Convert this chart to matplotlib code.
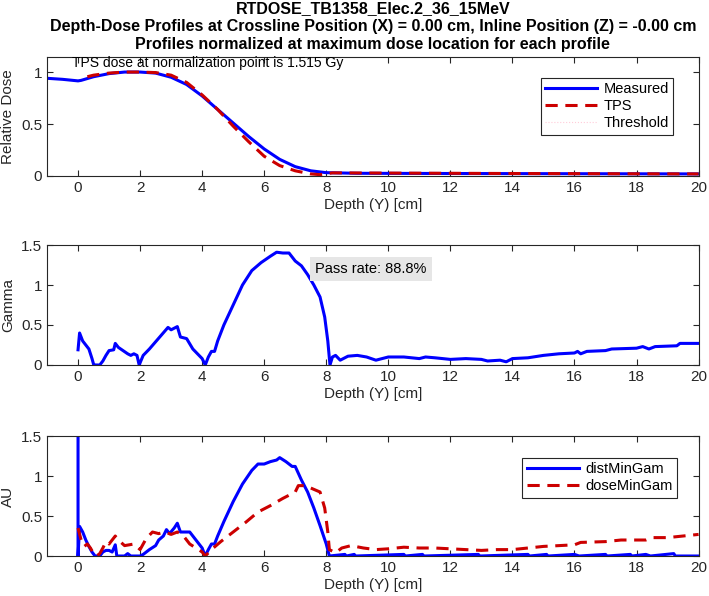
import numpy as np
import matplotlib
matplotlib.use("Agg")
import matplotlib.pyplot as plt
from matplotlib.ticker import FuncFormatter

plt.rcParams['font.family'] = ['Liberation Sans Narrow', 'Liberation Sans', 'DejaVu Sans']

# ---- data ----
meas_x = [-1, -0.5, 0, 0.1, 0.5, 1, 1.5, 2, 2.5, 3, 3.5, 4, 4.5, 5, 5.5, 6, 6.5, 7, 7.5, 8, 9, 12, 16, 20]
meas_y = [0.94, 0.93, 0.915, 0.92, 0.955, 0.985, 1.0, 1.0, 0.99, 0.95, 0.88, 0.77, 0.64, 0.51, 0.38, 0.26, 0.16, 0.09, 0.05, 0.032, 0.026, 0.024, 0.022, 0.02]

tps_x = [0.3, 0.5, 1, 1.5, 2, 2.5, 3, 3.5, 4, 4.5, 5, 5.5, 6, 6.5, 7, 7.5, 7.8, 8.2, 10, 14, 20]
tps_y = [0.955, 0.97, 0.99, 1.0, 1.0, 0.995, 0.97, 0.9, 0.78, 0.64, 0.48, 0.33, 0.19, 0.10, 0.05, 0.02, 0.013, 0.03, 0.028, 0.024, 0.02]

gam_x = [0, 0.05, 0.15, 0.25, 0.35, 0.45, 0.5, 0.55, 0.7, 0.8, 0.9, 1.0, 1.15, 1.2, 1.3, 1.45, 1.6, 1.7, 1.8, 1.9, 1.97,
         2.1, 2.3, 2.5, 2.7, 2.9, 3.0, 3.2, 3.3, 3.5, 3.7, 3.9, 4.0, 4.1, 4.2, 4.3, 4.4, 4.5, 4.7, 5.0, 5.3, 5.6, 5.9,
         6.2, 6.4, 6.6, 6.8, 7.0, 7.2, 7.4, 7.6, 7.8, 7.95, 8.05, 8.12, 8.2, 8.3, 8.45, 8.7, 9.0, 9.3, 9.6, 9.8, 10.0,
         10.5, 11.0, 11.2, 11.5, 12.0, 12.5, 13.0, 13.2, 13.6, 13.8, 14.0, 14.5, 15.0, 15.5, 16.0, 16.1, 16.2, 16.4,
         17.0, 17.2, 18.0, 18.2, 18.4, 18.6, 19.3, 19.4, 20.0]
gam_y = [0.19, 0.4, 0.3, 0.25, 0.2, 0.08, 0.01, 0.0, 0.0, 0.05, 0.12, 0.18, 0.19, 0.27, 0.22, 0.18, 0.14, 0.12, 0.14, 0.12, 0.0,
         0.12, 0.2, 0.29, 0.38, 0.47, 0.44, 0.48, 0.35, 0.33, 0.2, 0.12, 0.08, 0.0, 0.1, 0.17, 0.17, 0.3, 0.5, 0.75, 1.0, 1.18, 1.28,
         1.36, 1.41, 1.40, 1.40, 1.30, 1.24, 1.13, 1.0, 0.85, 0.6, 0.3, 0.0, 0.1, 0.12, 0.06, 0.11, 0.12, 0.1, 0.06, 0.08, 0.1,
         0.1, 0.08, 0.1, 0.09, 0.07, 0.08, 0.07, 0.05, 0.06, 0.04, 0.08, 0.09, 0.12, 0.14, 0.15, 0.17, 0.14, 0.17,
         0.18, 0.2, 0.21, 0.23, 0.2, 0.23, 0.24, 0.27, 0.27]

dist_x = [0, 0, 0.05, 0.15, 0.25, 0.35, 0.45, 0.55, 0.7, 0.8, 0.9, 1.0, 1.1, 1.2, 1.25, 1.5, 1.6, 1.7, 2.0, 2.1, 2.3, 2.5,
          2.6, 2.75, 2.85, 2.95, 3.1, 3.2, 3.3, 3.6, 3.8, 4.0, 4.1, 4.2, 4.3, 4.4, 4.5, 4.7, 5.0, 5.3, 5.6, 5.8, 6.0, 6.2,
          6.4, 6.5, 6.7, 6.9, 7.0, 7.2, 7.4, 7.6, 7.8, 8.0, 8.1, 8.6, 8.65, 8.9, 8.95, 10.5, 10.55, 11.1, 11.15, 12.9,
          12.95, 14.5, 14.55, 15.1, 15.15, 16.0, 16.15, 17.0, 17.05, 17.8, 17.85, 18.3, 18.45, 19.2, 19.25, 20]
dist_y = [1.6, 0.0, 0.37, 0.3, 0.2, 0.12, 0.05, 0.0, 0.0, 0.05, 0.07, 0.07, 0.05, 0.14, 0.0, 0.0, 0.03, 0.0, 0.0, 0.02, 0.08, 0.13,
          0.2, 0.25, 0.33, 0.28, 0.35, 0.41, 0.3, 0.3, 0.2, 0.1, 0.0, 0.08, 0.15, 0.15, 0.25, 0.43, 0.68, 0.9, 1.07, 1.15, 1.15, 1.18,
          1.2, 1.23, 1.18, 1.12, 1.12, 0.95, 0.8, 0.6, 0.38, 0.15, 0.0, 0.02, 0.0, 0.02, 0.0, 0.02, 0.0, 0.02, 0.0, 0.02,
          0.0, 0.02, 0.0, 0.02, 0.0, 0.02, 0.0, 0.02, 0.0, 0.02, 0.0, 0.02, 0.0, 0.03, 0.0, 0.0]

dose_x = [0, 0.1, 0.2, 0.3, 0.4, 0.5, 0.6, 0.7, 0.8, 0.9, 1.0, 1.1, 1.2, 1.3, 1.5, 1.8, 2.0, 2.2, 2.4, 2.6, 2.8, 3.0, 3.2,
          3.4, 3.6, 3.8, 4.0, 4.1, 4.3, 4.6, 5.0, 5.4, 5.8, 6.2, 6.6, 7.0, 7.1, 7.3, 7.5, 7.8, 7.95, 8.05, 8.1, 8.3, 8.5,
          8.8, 9.2, 9.6, 10, 10.5, 11, 11.5, 12, 12.5, 13, 13.5, 14, 14.5, 15, 15.5, 16, 16.2, 17, 17.5, 18, 18.3, 18.5,
          19, 19.5, 20]
dose_y = [0.35, 0.2, 0.12, 0.15, 0.1, 0.03, 0.0, 0.03, 0.1, 0.18, 0.15, 0.2, 0.25, 0.2, 0.13, 0.15, 0.08, 0.22, 0.3, 0.28, 0.3, 0.27, 0.3,
          0.25, 0.15, 0.1, 0.05, 0.0, 0.08, 0.18, 0.3, 0.42, 0.55, 0.63, 0.72, 0.8, 0.88, 0.88, 0.85, 0.8, 0.6, 0.3, 0.08, 0.04, 0.1,
          0.13, 0.1, 0.08, 0.09, 0.11, 0.1, 0.1, 0.09, 0.08, 0.07, 0.08, 0.08, 0.1, 0.12, 0.13, 0.14, 0.17, 0.18, 0.2, 0.2, 0.2, 0.23,
          0.23, 0.25, 0.27]

titles = ["RTDOSE_TB1358_Elec.2_36_15MeV",
          "Depth-Dose Profiles at Crossline Position (X) = 0.00 cm, Inline Position (Z) = -0.00 cm",
          "Profiles normalized at maximum dose location for each profile"]
norm_note = "TPS dose at normalization point is 1.515 Gy"
pass_note = "Pass rate: 88.8%"

BLUE = (0, 0, 1)
RED = (0.8, 0, 0)
AXC = (0.15, 0.15, 0.15)

fig = plt.figure(figsize=(7.09, 5.96), dpi=100)
ax1 = fig.add_axes([0.0663, 0.7047, 0.919, 0.1997])
ax2 = fig.add_axes([0.0663, 0.3876, 0.919, 0.2013])
ax3 = fig.add_axes([0.0663, 0.0671, 0.919, 0.2013])

fmt = FuncFormatter(lambda v, p: "%g" % v)
for ax in (ax1, ax2, ax3):
    ax.set_xlim(-1, 20)
    ax.set_xticks(range(0, 21, 2))
    ax.tick_params(direction='in', top=True, right=True, length=4, labelsize=11, colors=AXC)
    ax.yaxis.set_major_formatter(fmt)
    for s in ax.spines.values():
        s.set_color(AXC)
        s.set_linewidth(0.8)
    ax.set_xlabel("Depth (Y) [cm]", fontsize=11, color=AXC, labelpad=2)

# top panel
ax1.plot(meas_x, meas_y, color=BLUE, lw=2.2, label="Measured")
ax1.plot(tps_x, tps_y, color=RED, lw=2.2, ls=(0, (4, 2.5)), label="TPS")
ax1.plot([], [], color=(1, 0.8, 0.85), lw=0.8, ls=':', label="Threshold")
ax1.set_ylim(0, 1.145)
ax1.set_yticks([0, 0.5, 1])
ax1.set_ylabel("Relative Dose", fontsize=11, color=AXC)
ax1.text(-0.2, 1.09, norm_note, fontsize=10, va='center', ha='left', color='black')
leg = ax1.legend(loc='upper right', bbox_to_anchor=(0.972, 0.885), fontsize=10.5, handlelength=3.6,
                 fancybox=False, framealpha=1, borderpad=0.3, labelspacing=0.2, handletextpad=0.4)
leg.get_frame().set_edgecolor(AXC)
leg.get_frame().set_linewidth(0.8)
ax1.set_title("\n".join(titles), fontsize=11.5, fontweight='bold', pad=6, linespacing=1.25)

# gamma panel
ax2.plot(gam_x, gam_y, color=BLUE, lw=2.2)
ax2.set_ylim(0, 1.5)
ax2.set_yticks([0, 0.5, 1, 1.5])
ax2.set_ylabel("Gamma", fontsize=11, color=AXC)
ax2.text(7.65, 1.2, pass_note, fontsize=10.5, va='center', ha='left',
         bbox=dict(boxstyle='square,pad=0.35', facecolor=(0.9, 0.9, 0.9), edgecolor='none'))

# AU panel
ax3.plot(dist_x, dist_y, color=BLUE, lw=2.2, label="distMinGam")
ax3.plot(dose_x, dose_y, color=RED, lw=2.2, ls=(0, (4, 2.5)), label="doseMinGam")
ax3.set_ylim(0, 1.5)
ax3.set_yticks([0, 0.5, 1, 1.5])
ax3.set_ylabel("AU", fontsize=11, color=AXC)
leg3 = ax3.legend(loc='upper right', bbox_to_anchor=(0.978, 0.878), fontsize=10.5, handlelength=3.6,
                  fancybox=False, framealpha=1, borderpad=0.3, labelspacing=0.2, handletextpad=0.4)
leg3.get_frame().set_edgecolor(AXC)
leg3.get_frame().set_linewidth(0.8)

fig.savefig("out.png", dpi=100)
